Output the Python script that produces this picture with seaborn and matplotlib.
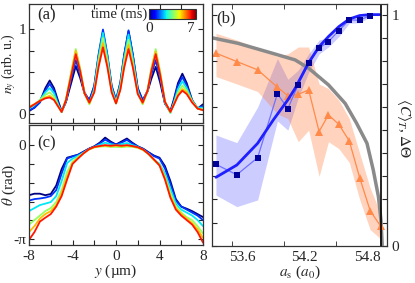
import numpy as np
import pandas as pd
import matplotlib
matplotlib.use("Agg")
import matplotlib.pyplot as plt
import seaborn as sns
from matplotlib.colors import Normalize

# ---------------- panel (a): density profiles n_y(y), one curve per time
times = [0.0, 1.4, 2.8, 4.2, 5.6, 7.0]
y_a = [-8.0, -7.5, -7.0, -6.5, -6.1, -5.7, -5.3, -5.0, -4.6, -4.1, -3.7, -3.3, -2.9,
       -2.45, -2.0, -1.6, -1.2, -0.8, -0.4, 0.0, 0.4, 0.75, 1.15, 1.55, 2.0, 2.45,
       2.9, 3.25, 3.65, 4.05, 4.5, 5.0, 5.3, 5.7, 6.1, 6.5, 7.0, 7.5, 8.0]
n_t0 = [0.04, 0.08, 0.15, 0.31, 0.40, 0.31, 0.15, 0.04, 0.15, 0.38, 0.57, 0.43, 0.25,
        0.17, 0.33, 0.69, 0.97, 0.69, 0.33, 0.17, 0.37, 0.70, 0.98, 0.70, 0.31, 0.17,
        0.27, 0.42, 0.56, 0.38, 0.13, 0.04, 0.17, 0.37, 0.48, 0.37, 0.17, 0.07, 0.12]
n_t1 = [0.05, 0.08, 0.14, 0.28, 0.36, 0.28, 0.13, 0.03, 0.15, 0.43, 0.64, 0.47, 0.26,
        0.16, 0.34, 0.71, 1.00, 0.71, 0.34, 0.17, 0.38, 0.70, 0.99, 0.70, 0.30, 0.16,
        0.28, 0.47, 0.64, 0.43, 0.13, 0.03, 0.15, 0.34, 0.44, 0.34, 0.16, 0.07, 0.10]
n_t2 = [0.07, 0.11, 0.17, 0.26, 0.31, 0.25, 0.11, 0.03, 0.17, 0.49, 0.74, 0.53, 0.25,
        0.13, 0.30, 0.67, 0.96, 0.68, 0.31, 0.15, 0.35, 0.66, 0.94, 0.66, 0.27, 0.13,
        0.28, 0.53, 0.74, 0.49, 0.14, 0.02, 0.13, 0.30, 0.39, 0.31, 0.16, 0.08, 0.08]
n_t3 = [0.09, 0.12, 0.17, 0.23, 0.26, 0.21, 0.10, 0.03, 0.18, 0.51, 0.77, 0.54, 0.25,
        0.12, 0.28, 0.63, 0.90, 0.63, 0.28, 0.13, 0.32, 0.62, 0.88, 0.61, 0.25, 0.12,
        0.28, 0.54, 0.77, 0.51, 0.15, 0.02, 0.12, 0.26, 0.34, 0.28, 0.15, 0.07, 0.06]
n_t4 = [0.09, 0.12, 0.16, 0.20, 0.22, 0.18, 0.09, 0.03, 0.17, 0.50, 0.75, 0.53, 0.25,
        0.13, 0.27, 0.59, 0.84, 0.59, 0.27, 0.13, 0.30, 0.58, 0.82, 0.58, 0.25, 0.13,
        0.28, 0.53, 0.74, 0.49, 0.15, 0.03, 0.11, 0.23, 0.30, 0.26, 0.15, 0.07, 0.05]
n_t5 = [0.08, 0.12, 0.16, 0.19, 0.20, 0.17, 0.09, 0.03, 0.17, 0.47, 0.71, 0.51, 0.25,
        0.14, 0.26, 0.56, 0.79, 0.56, 0.26, 0.13, 0.29, 0.55, 0.77, 0.55, 0.24, 0.14,
        0.28, 0.51, 0.71, 0.47, 0.15, 0.03, 0.11, 0.22, 0.28, 0.24, 0.14, 0.07, 0.05]

# ---------------- panel (c): phase profiles theta(y)
y_c = [-8.0, -7.5, -7.0, -6.5, -6.0, -5.5, -5.0, -4.5, -4.0, -3.5, -3.0, -2.5, -2.0,
       -1.5, -1.0, -0.5, 0.0, 0.5, 1.0, 1.5, 2.0, 2.5, 3.0, 3.5, 4.0, 4.5, 5.0, 5.5,
       6.0, 6.5, 7.0, 7.5, 8.0]
th_t0 = [-1.67, -1.62, -1.62, -1.67, -1.63, -1.35, -0.80, -0.42, -0.37, -0.32, -0.22,
         -0.12, -0.04, 0.08, 0.25, 0.12, 0.02, 0.12, 0.22, 0.08, -0.04, -0.12, -0.24,
         -0.35, -0.42, -0.70, -1.20, -1.80, -2.05, -2.12, -2.20, -2.30, -2.40]
th_t1 = [-1.85, -1.80, -1.78, -1.75, -1.70, -1.50, -0.95, -0.45, -0.38, -0.33, -0.23,
         -0.13, -0.05, 0.05, 0.18, 0.08, 0.01, 0.08, 0.17, 0.05, -0.05, -0.13, -0.25,
         -0.37, -0.45, -0.78, -1.30, -1.85, -2.05, -2.15, -2.25, -2.35, -2.50]
th_t2 = [-2.20, -2.10, -2.00, -1.95, -1.90, -1.70, -1.20, -0.60, -0.45, -0.36, -0.26,
         -0.14, -0.06, 0.01, 0.08, 0.03, 0.00, 0.03, 0.07, 0.00, -0.06, -0.15, -0.30,
         -0.50, -0.62, -0.95, -1.45, -1.95, -2.15, -2.25, -2.35, -2.50, -2.70]
th_t3 = [-2.65, -2.50, -2.35, -2.20, -2.10, -1.90, -1.50, -0.90, -0.55, -0.40, -0.27,
         -0.15, -0.08, -0.05, -0.04, -0.06, -0.06, -0.07, -0.05, -0.06, -0.09, -0.17,
         -0.30, -0.50, -0.65, -1.05, -1.60, -2.05, -2.25, -2.40, -2.50, -2.70, -2.95]
th_t4 = [-2.90, -2.70, -2.45, -2.30, -2.20, -2.00, -1.60, -1.05, -0.60, -0.43, -0.28,
         -0.15, -0.07, -0.04, -0.02, -0.04, -0.02, -0.04, -0.02, -0.04, -0.08, -0.16,
         -0.30, -0.50, -0.67, -1.10, -1.70, -2.10, -2.30, -2.45, -2.60, -2.80, -3.10]
th_t5 = [-3.16, -2.90, -2.55, -2.42, -2.30, -2.05, -1.70, -1.15, -0.63, -0.45, -0.28,
         -0.14, -0.06, -0.03, 0.00, -0.02, 0.00, -0.02, 0.00, -0.03, -0.07, -0.15,
         -0.30, -0.48, -0.68, -1.15, -1.75, -2.15, -2.35, -2.50, -2.65, -2.90, -3.25]

# ---------------- panel (b): coherence <C>_T and phase spread vs scattering length
as_C = [53.35, 53.55, 53.75, 53.94, 54.04, 54.14, 54.24, 54.34, 54.43, 54.53, 54.63,
        54.73, 54.83]
C_T = [0.352, 0.307, 0.381, 0.658, 0.593, 0.697, 0.792, 0.855, 0.883, 0.931, 0.977,
       0.976, 0.996]
C_lo = [0.219, 0.169, 0.198, 0.54, 0.50, 0.64, 0.75, 0.83, 0.86, 0.905, 0.963, 0.965, 0.99]
C_hi = [0.479, 0.446, 0.60, 0.81, 0.72, 0.76, 0.83, 0.89, 0.90, 0.955, 0.991, 0.988, 1.004]

as_D = [53.35, 53.55, 53.75, 53.94, 54.04, 54.14, 54.24, 54.34, 54.43, 54.53, 54.63,
        54.73, 54.83, 54.93]
dTheta = [0.833, 0.797, 0.761, 0.686, 0.649, 0.655, 0.674, 0.494, 0.566, 0.525, 0.453,
          0.294, 0.152, 0.085]
dTheta_lo = [0.732, 0.70, 0.667, 0.57, 0.55, 0.45, 0.50, 0.30, 0.45, 0.42, 0.36, 0.20,
             0.07, 0.03]
dTheta_hi = [0.919, 0.89, 0.855, 0.82, 0.83, 0.86, 0.86, 0.70, 0.68, 0.63, 0.55, 0.40,
             0.25, 0.14]

fit_x = [53.35, 53.55, 53.75, 53.90, 54.04, 54.11, 54.24, 54.34, 54.43, 54.53, 54.63,
         54.73, 54.83, 54.92]
fit_y = [0.296, 0.349, 0.443, 0.544, 0.631, 0.681, 0.792, 0.861, 0.905, 0.948, 0.981,
         0.996, 1.0, 1.0]

gray_x = [53.31, 53.56, 53.89, 54.11, 54.24, 54.43, 54.59, 54.70, 54.80, 54.86, 54.91,
          54.934, 54.946]
gray_y = [0.900, 0.876, 0.833, 0.804, 0.768, 0.696, 0.616, 0.530, 0.443, 0.328, 0.212,
          0.111, 0.003]
a_crit = 54.93

# ---------------- style
sns.set_style("ticks")
plt.rcParams["font.family"] = ["Liberation Serif", "DejaVu Serif"]
plt.rcParams["mathtext.fontset"] = "stix"
plt.rcParams["xtick.direction"] = "in"
plt.rcParams["ytick.direction"] = "in"
plt.rcParams["axes.edgecolor"] = "#333333"
plt.rcParams["axes.linewidth"] = 0.9

jet = matplotlib.colormaps["jet"]
fs = 11
fig = plt.figure(figsize=(4.15, 2.83), dpi=100)
ax_a = fig.add_axes([0.0699, 0.5654, 0.4193, 0.4205])
ax_c = fig.add_axes([0.0699, 0.1343, 0.4193, 0.4240])
ax_b = fig.add_axes([0.5101, 0.1318, 0.4224, 0.8541])

# long tables for seaborn (one row per point, hue = time)
df_a = pd.DataFrame({
    "y": y_a * len(times),
    "n": n_t0 + n_t1 + n_t2 + n_t3 + n_t4 + n_t5,
    "t": np.repeat(times, len(y_a)),
})
df_c = pd.DataFrame({
    "y": y_c * len(times),
    "theta": th_t0 + th_t1 + th_t2 + th_t3 + th_t4 + th_t5,
    "t": np.repeat(times, len(y_c)),
})

# ---- (a)
sns.lineplot(data=df_a, x="y", y="n", hue="t", palette=jet, hue_norm=(0, 7.9),
             legend=False, lw=1.3, errorbar=None, ax=ax_a)
ax_a.set_xlim(-8, 8)
ax_a.set_ylim(-0.1, 1.3)
ax_a.set_xticks(list(range(-8, 9, 2)))
ax_a.set_xticklabels([])
ax_a.set_xlabel("")
ax_a.set_yticks([0, 0.25, 0.5, 0.75, 1])
ax_a.set_yticklabels(["0", "", "", "", "1"], fontsize=fs)
ax_a.tick_params(axis="y", pad=2)
ax_a.set_ylabel("$n_y$ (arb. u.)", fontsize=10)
ax_a.yaxis.set_label_coords(-0.064, 0.5)
ax_a.text(0.05, 0.90, "(a)", transform=ax_a.transAxes, fontsize=12, va="center")

cax = fig.add_axes([149 / 415, 1 - 19 / 283, 47 / 415, 10 / 283])
sm = plt.cm.ScalarMappable(norm=Normalize(0, 7), cmap=jet)
cb = fig.colorbar(sm, cax=cax, orientation="horizontal")
cb.set_ticks([])
cb.outline.set_linewidth(0.8)
fig.text(147 / 415, 1 - 14 / 283, "time (ms)", ha="right", va="center", fontsize=10.5)
fig.text(149 / 415, 1 - 28 / 283, "0", ha="center", va="center", fontsize=fs)
fig.text(191 / 415, 1 - 28 / 283, "7", ha="center", va="center", fontsize=fs)

# ---- (c)
sns.lineplot(data=df_c, x="y", y="theta", hue="t", palette=jet, hue_norm=(0, 7.9),
             legend=False, lw=1.3, errorbar=None, ax=ax_c)
ax_c.set_xlim(-8, 8)
ax_c.set_ylim(-3.33, 0.67)
ax_c.set_xticks(list(range(-8, 9, 2)))
ax_c.set_xticklabels(["-8", "", "-4", "", "0", "", "4", "", "8"], fontsize=fs)
ax_c.set_yticks([0, -np.pi / 5, -2 * np.pi / 5, -3 * np.pi / 5, -4 * np.pi / 5, -np.pi])
ax_c.set_yticklabels(["0", "", "", "", "", "-π"], fontsize=fs)
ax_c.tick_params(axis="y", pad=2)
ax_c.set_xlabel("$y$ (µm)", fontsize=fs, labelpad=0)
ax_c.set_ylabel(r"$\theta$ (rad)", fontsize=fs)
ax_c.yaxis.set_label_coords(-0.062, 0.5)
ax_c.text(0.045, 0.85, "(c)", transform=ax_c.transAxes, fontsize=12, va="center")

# ---- (b)
ax_b.fill_between(as_C, C_lo, C_hi, color=(0.0, 0.0, 1.0), alpha=0.2, lw=0)
ax_b.fill_between(as_D, dTheta_lo, dTheta_hi, color="#ff7a3a", alpha=0.33, lw=0)
sns.lineplot(x=gray_x, y=gray_y, color="#8a8a8a", lw=2.5, sort=False, ax=ax_b)
sns.lineplot(x=as_D, y=dTheta, color="#ff8a4a", lw=0.9, marker="^", markersize=6,
             markeredgewidth=0, ax=ax_b)
sns.lineplot(x=as_C, y=C_T, color="#7070ff", lw=0.9, ax=ax_b)
sns.lineplot(x=fit_x, y=fit_y, color="#1f1fff", lw=2.0, ax=ax_b)
sns.scatterplot(x=as_C, y=C_T, marker="s", s=18, color="#00009a", linewidth=0,
                zorder=5, ax=ax_b)
ax_b.axvline(a_crit, color="black", lw=1.2)

ax_b.set_xlim(53.309, 54.992)
ax_b.set_ylim(0, 1.046)
ax_b.set_xticks([53.6, 54.2, 54.8])
ax_b.set_xticklabels(["53.6", "54.2", "54.8"], fontsize=fs)
ax_b.set_xticks([53.5, 54.0, 54.5], minor=True)
ax_b.tick_params(axis="x", which="major", length=0)
ax_b.tick_params(axis="x", which="minor", length=3.5, top=True, bottom=True)
ytk = [0, 0.1, 0.2, 0.3, 0.4, 0.5, 0.6, 0.7, 0.8, 0.9, 1.0]
ax_b.set_yticks(ytk)
ax_b.set_yticklabels(["0"] + [""] * 9 + ["1"], fontsize=fs)
ax_b.tick_params(axis="y", left=True, right=True, labelleft=False, labelright=True,
                 length=3.5)
ax_b.set_xlabel(r"$a_{\rm s}$ ($a_0$)", fontsize=fs, labelpad=0)
ax_b.set_ylabel("")
ax_b.text(0.028, 0.942, "(b)", transform=ax_b.transAxes, fontsize=12, va="center")
fig.text(404 / 415, 1 - 128 / 283, r"$\langle C\rangle_T$, $\Delta\Theta$",
         rotation=-90, ha="center", va="center", fontsize=fs)

for ax in (ax_a, ax_c):
    ax.tick_params(which="both", top=True, right=True, length=3.5)
for ax in (ax_a, ax_b, ax_c):
    for sp in ax.spines.values():
        sp.set_visible(True)

fig.savefig("out.png", dpi=100, facecolor="white")
